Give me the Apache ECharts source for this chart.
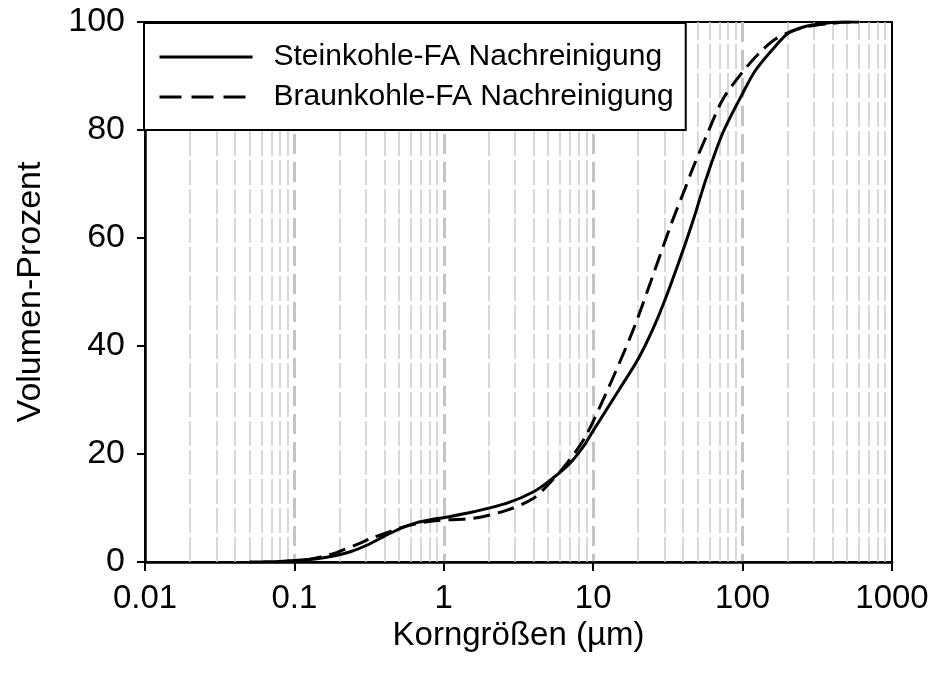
<!DOCTYPE html>
<html>
<head>
<meta charset="utf-8">
<script src="https://cdn.jsdelivr.net/npm/echarts@6/dist/echarts.min.js"></script>
<style>html,body{margin:0;padding:0;background:#fff}#c{width:933px;height:682px}</style>
</head>
<body>
<div id="c"></div>
<script>
const seriesNames = ['Steinkohle-FA Nachreinigung', 'Braunkohle-FA Nachreinigung'];
const xTickLabels = ['0.01', '0.1', '1', '10', '100', '1000'];
const yTicks = [0, 20, 40, 60, 80, 100];

const steinX = [0.05, 0.06, 0.08, 0.1, 0.142, 0.183, 0.237, 0.305, 0.395, 0.51, 0.66, 0.85, 1.04, 1.58, 2.65, 3.99, 5.35, 7.0, 8.6, 10, 14.9, 20.0, 24.6, 29.9, 37.3, 46.2, 56.9, 73.5, 101, 123, 163, 204, 266, 344, 450, 600];
const steinY = [0, 0.02, 0.1, 0.3, 0.6, 1.1, 1.9, 3.1, 4.7, 6.2, 7.3, 7.9, 8.3, 9.3, 10.9, 13.0, 15.5, 18.3, 21.4, 24.3, 31.9, 37.6, 42.6, 48.2, 55.4, 62.9, 70.9, 79.4, 87.0, 91.2, 95.3, 98.0, 99.2, 99.7, 100, 100];

const braunX = [0.08, 0.1, 0.128, 0.174, 0.193, 0.276, 0.32, 0.435, 0.51, 0.66, 0.9, 1.58, 2.65, 3.99, 5.1, 6.3, 7.8, 9.0, 10.1, 14.0, 18.9, 25.9, 33.5, 41.0, 47.5, 56.9, 73.5, 101, 130, 165, 215, 278, 382, 500, 600];
const braunY = [0.05, 0.2, 0.5, 1.4, 1.8, 3.5, 4.3, 5.6, 6.3, 7.1, 7.7, 8.1, 9.6, 11.8, 14.6, 17.4, 20.8, 23.5, 26.3, 35.0, 43.6, 54.1, 62.8, 69.0, 73.6, 78.7, 85.6, 90.9, 94.3, 96.8, 98.3, 99.2, 99.7, 100, 100];

const minorGrid = [];
[0.01, 0.1, 1, 10, 100].forEach(d => { for (let k = 2; k <= 9; k++) minorGrid.push(+(d * k).toPrecision(3)); });

const FONT = 'Liberation Sans, Arial, sans-serif';
const chart = echarts.init(document.getElementById('c'), null, {renderer: 'canvas'});
const zip = (xs, ys) => xs.map((x, i) => [x, ys[i]]);

chart.setOption({
  animation: false,
  backgroundColor: '#fff',
  textStyle: {fontFamily: FONT, color: '#000'},
  grid: {left: 145, right: 41, top: 22, bottom: 120, show: true, borderColor: '#000', borderWidth: 2, backgroundColor: 'transparent'},
  legend: {
    orient: 'vertical', left: 144, top: 23,
    padding: [19, 12, 18, 14],
    backgroundColor: '#fff', borderColor: '#000', borderWidth: 2,
    itemWidth: 93, itemHeight: 30, itemGap: 10,
    itemStyle: {opacity: 0},
    textStyle: {fontSize: 30, color: '#000', fontFamily: FONT, padding: [0, 0, 0, 16]},
    data: [
      {name: seriesNames[0], lineStyle: {color: '#000', width: 3, type: 'solid'}},
      {name: seriesNames[1], lineStyle: {color: '#000', width: 3, type: [22, 10]}}
    ]
  },
  xAxis: {
    type: 'log', logBase: 10, min: 0.01, max: 1000,
    name: 'Korngrößen (µm)', nameLocation: 'middle', nameGap: 57,
    nameTextStyle: {fontSize: 33, color: '#000', fontFamily: FONT},
    axisLine: {lineStyle: {color: '#000', width: 2.5}},
    axisTick: {show: true, length: 9, lineStyle: {color: '#000', width: 2}},
    axisLabel: {fontSize: 33, color: '#000', margin: 20, fontFamily: FONT,
      formatter: v => xTickLabels[Math.round(Math.log10(v)) + 2]},
    splitLine: {show: true, showMinLine: false, showMaxLine: false, lineStyle: {color: '#c4c4c4', width: 3, type: [20, 8]}},
    minorTick: {show: false}
  },
  yAxis: {
    type: 'value', min: 0, max: 100, interval: 20,
    name: 'Volumen-Prozent', nameLocation: 'middle', nameGap: 97, nameRotate: 90,
    nameTextStyle: {fontSize: 34, color: '#000', fontFamily: FONT},
    axisLine: {show: true, lineStyle: {color: '#000', width: 2.5}},
    axisTick: {show: true, length: 8, lineStyle: {color: '#000', width: 2}},
    axisLabel: {fontSize: 34, color: '#000', margin: 20, fontFamily: FONT,
      formatter: v => (yTicks.indexOf(v) >= 0 ? String(v) : '')},
    splitLine: {show: false}
  },
  series: [
    {
      name: seriesNames[0], type: 'line', data: zip(steinX, steinY),
      symbol: 'none', smooth: 0.3, z: 3,
      lineStyle: {color: '#000', width: 3, type: 'solid'},
      itemStyle: {color: '#000'},
      markLine: {
        silent: true, symbol: ['none', 'none'], z: 1,
        label: {show: false},
        lineStyle: {color: '#cccccc', width: 1.5, type: [25, 4]},
        emphasis: {disabled: true},
        data: minorGrid.map(v => ({xAxis: v}))
      }
    },
    {
      name: seriesNames[1], type: 'line', data: zip(braunX, braunY),
      symbol: 'none', smooth: 0.3, z: 3,
      lineStyle: {color: '#000', width: 3, type: [17, 8]},
      itemStyle: {color: '#000'}
    }
  ]
});
</script>
</body>
</html>
